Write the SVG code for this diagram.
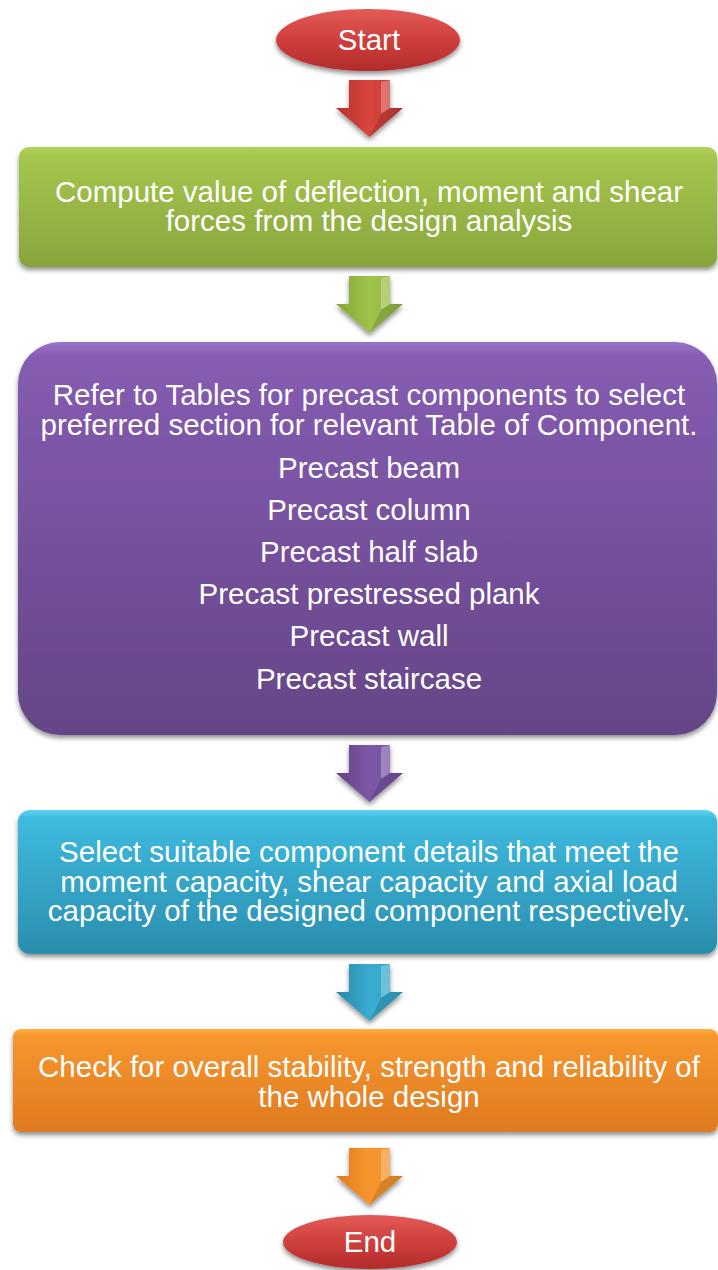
<svg xmlns="http://www.w3.org/2000/svg" width="718" height="1270" viewBox="0 0 718 1270">
<defs>
<filter id="sh" x="-10%" y="-10%" width="120%" height="130%">
<feGaussianBlur in="SourceAlpha" stdDeviation="2.5"/>
<feOffset dx="0" dy="3" result="b"/>
<feComponentTransfer><feFuncA type="linear" slope="0.45"/></feComponentTransfer>
<feMerge><feMergeNode/><feMergeNode in="SourceGraphic"/></feMerge>
</filter>
<linearGradient id="gRed" x1="0" y1="0" x2="0" y2="1"><stop offset="0" stop-color="#e25b57"/><stop offset="0.5" stop-color="#cf3f3c"/><stop offset="1" stop-color="#b32b2b"/></linearGradient>
<linearGradient id="gGreen" x1="0" y1="0" x2="0" y2="1"><stop offset="0" stop-color="#b2d256"/><stop offset="0.08" stop-color="#a5c64d"/><stop offset="1" stop-color="#88a53d"/></linearGradient>
<linearGradient id="gPurple" x1="0" y1="0" x2="0" y2="1"><stop offset="0" stop-color="#9a72c6"/><stop offset="0.04" stop-color="#855cb2"/><stop offset="1" stop-color="#654586"/></linearGradient>
<linearGradient id="gCyan" x1="0" y1="0" x2="0" y2="1"><stop offset="0" stop-color="#5ad4f2"/><stop offset="0.06" stop-color="#3ebadf"/><stop offset="1" stop-color="#2a8eae"/></linearGradient>
<linearGradient id="gOrange" x1="0" y1="0" x2="0" y2="1"><stop offset="0" stop-color="#fdb042"/><stop offset="0.07" stop-color="#f7962e"/><stop offset="1" stop-color="#df7a20"/></linearGradient>
<linearGradient id="aRed" x1="0" y1="0" x2="1" y2="0"><stop offset="0" stop-color="#b8302e"/><stop offset="0.5" stop-color="#d9453f"/><stop offset="1" stop-color="#c23835"/></linearGradient>
<linearGradient id="aGreen" x1="0" y1="0" x2="1" y2="0"><stop offset="0" stop-color="#86a53a"/><stop offset="0.5" stop-color="#9fc24a"/><stop offset="1" stop-color="#93b443"/></linearGradient>
<linearGradient id="aPurple" x1="0" y1="0" x2="1" y2="0"><stop offset="0" stop-color="#61437f"/><stop offset="0.5" stop-color="#7d57a8"/><stop offset="1" stop-color="#7350a0"/></linearGradient>
<linearGradient id="aCyan" x1="0" y1="0" x2="1" y2="0"><stop offset="0" stop-color="#2a87a6"/><stop offset="0.5" stop-color="#38acd0"/><stop offset="1" stop-color="#33a2c6"/></linearGradient>
<linearGradient id="aOrange" x1="0" y1="0" x2="1" y2="0"><stop offset="0" stop-color="#e07a1f"/><stop offset="0.5" stop-color="#f7962e"/><stop offset="1" stop-color="#f09028"/></linearGradient>
<path id="arr" d="M349,0 L390,0 L390,28 L403,28 L369.5,57 L336,28 L349,28 Z"/>
</defs>
<style>
text{font-family:"Liberation Sans",Arial,sans-serif;fill:#ffffff;text-anchor:middle;font-size:29.5px}
.hl{fill:#ffffff;opacity:0.28}
.dk{fill:#000000;opacity:0.12}
</style>

<g id="connectors">
<g id="a1" transform="translate(0,80)" filter="url(#sh)">
<use href="#arr" fill="url(#aRed)"/>
<polygon class="hl" points="381,2 390,0 390,28 381,34"/>
<polygon class="dk" points="369.5,57 403,28 390,28 381,34"/>
</g>
<g id="a2" transform="translate(0,276)" filter="url(#sh)">
<use href="#arr" fill="url(#aGreen)"/>
<polygon class="hl" points="381,2 390,0 390,28 381,34"/>
<polygon class="dk" points="369.5,57 403,28 390,28 381,34"/>
</g>
<g id="a3" transform="translate(0,745)" filter="url(#sh)">
<use href="#arr" fill="url(#aPurple)"/>
<polygon class="hl" points="381,2 390,0 390,28 381,34"/>
<polygon class="dk" points="369.5,57 403,28 390,28 381,34"/>
</g>
<g id="a4" transform="translate(0,964)" filter="url(#sh)">
<use href="#arr" fill="url(#aCyan)"/>
<polygon class="hl" points="381,2 390,0 390,28 381,34"/>
<polygon class="dk" points="369.5,57 403,28 390,28 381,34"/>
</g>
<g id="a5" transform="translate(0,1148)" filter="url(#sh)">
<use href="#arr" fill="url(#aOrange)"/>
<polygon class="hl" points="381,2 390,0 390,28 381,34"/>
<polygon class="dk" points="369.5,57 403,28 390,28 381,34"/>
</g>
</g>

<g id="start">
<ellipse cx="368" cy="40" rx="92" ry="31" fill="url(#gRed)" filter="url(#sh)"/>
<text x="369" y="50">Start</text>
</g>

<g id="compute">
<rect x="19" y="147" width="698" height="120" rx="10" fill="url(#gGreen)" filter="url(#sh)"/>
<text x="369" y="202">Compute value of deflection, moment and shear</text>
<text x="369" y="231">forces from the design analysis</text>
</g>

<g id="refer">
<rect x="18" y="342" width="699" height="393" rx="42" fill="url(#gPurple)" filter="url(#sh)"/>
<text x="369" y="405">Refer to Tables for precast components to select</text>
<text x="369" y="435">preferred section for relevant Table of Component.</text>
<text x="369" y="478">Precast beam</text>
<text x="369" y="520">Precast column</text>
<text x="369" y="562">Precast half slab</text>
<text x="369" y="604">Precast prestressed plank</text>
<text x="369" y="646">Precast wall</text>
<text x="369" y="689">Precast staircase</text>
</g>

<g id="select">
<rect x="18" y="810" width="699" height="144" rx="12" fill="url(#gCyan)" filter="url(#sh)"/>
<text x="369" y="862">Select suitable component details that meet the</text>
<text x="369" y="892">moment capacity, shear capacity and axial load</text>
<text x="369" y="921">capacity of the designed component respectively.</text>
</g>

<g id="check">
<rect x="13" y="1029" width="705" height="103" rx="8" fill="url(#gOrange)" filter="url(#sh)"/>
<text x="369" y="1077">Check for overall stability, strength and reliability of</text>
<text x="369" y="1107">the whole design</text>
</g>

<g id="end">
<ellipse cx="370" cy="1242" rx="87" ry="27" fill="url(#gRed)" filter="url(#sh)"/>
<text x="370" y="1252">End</text>
</g>
</svg>
